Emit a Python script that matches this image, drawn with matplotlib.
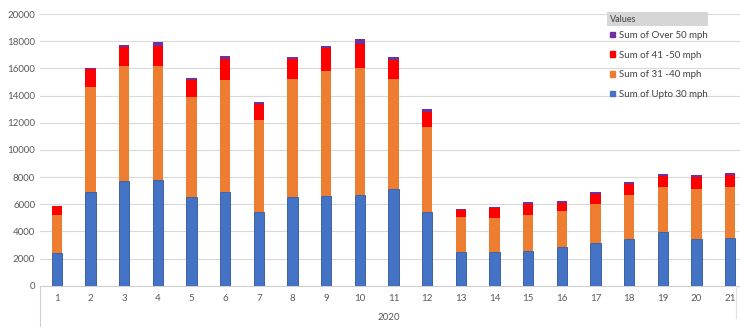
"""Stacked speed-band counts per week (2020), Excel pivot-chart look."""

import matplotlib
matplotlib.use("Agg")
import matplotlib.pyplot as plt
from matplotlib.patches import Patch, Rectangle

plt.rcParams["font.family"] = ["Lato", "DejaVu Sans"]

weeks = [str(i) for i in range(1, 22)]
year_label = "2020"

upto_30 = [2390, 6880, 7710, 7780, 6550, 6880, 5400, 6550, 6630, 6700, 7120,
           5450, 2500, 2460, 2580, 2870, 3120, 3440, 3930, 3440, 3490]
mph_31_40 = [2810, 7750, 8490, 8420, 7350, 8290, 6800, 8690, 9180, 9330, 8120,
             6240, 2560, 2530, 2650, 2630, 2920, 3240, 3340, 3660, 3750]
mph_41_50 = [670, 1330, 1350, 1470, 1250, 1520, 1200, 1450, 1670, 1790, 1360,
             1120, 540, 710, 790, 610, 710, 790, 810, 880, 890]
over_50 = [30, 100, 170, 250, 120, 220, 150, 170, 190, 350, 220,
           200, 50, 70, 140, 100, 170, 140, 140, 190, 140]

series = [
    ("Sum of Upto 30 mph", upto_30, "#4472C4"),
    ("Sum of 31 -40 mph", mph_31_40, "#ED7D31"),
    ("Sum of 41 -50 mph", mph_41_50, "#FF0000"),
    ("Sum of Over 50 mph", over_50, "#7030A0"),
]

W, H = 740, 330
fig = plt.figure(figsize=(W / 100, H / 100), dpi=100)
# plot area runs past the right edge, like the cropped screenshot
ax = fig.add_axes([40 / W, (H - 285.7) / H, 707 / W, 271.7 / H])

x = list(range(len(weeks)))
bottom = [0] * len(weeks)
for name, vals, color in series:
    if color == "#4472C4":
        ax.bar(x, vals, width=0.31, bottom=bottom, color=color,
               edgecolor="#2F5597", linewidth=0.6, zorder=3)
    else:
        ax.bar(x, vals, width=0.31, bottom=bottom, color=color,
               linewidth=0, zorder=3)
    bottom = [b + v for b, v in zip(bottom, vals)]

ax.set_xlim(-0.5, len(weeks) - 0.5)
ax.set_ylim(0, 20000)
ax.set_yticks(range(0, 20001, 2000))
ax.grid(axis="y", color="#d9d9d9", linewidth=0.8, zorder=0)
for s in ["top", "right", "left"]:
    ax.spines[s].set_visible(False)
ax.spines["bottom"].set_color("#d0d0d0")
ax.tick_params(axis="both", length=0, labelsize=7, colors="#595959")
ax.tick_params(axis="x", pad=6)
ax.set_xticks(x)
ax.set_xticklabels(weeks)

# second category level
fig.add_artist(plt.Line2D([40 / W, 40 / W], [(H - 285.7) / H, (H - 326) / H],
                          color="#d0d0d0", linewidth=0.8))
fig.add_artist(plt.Line2D([736 / W, 736 / W], [(H - 285.7) / H, (H - 318) / H],
                          color="#e0e0e0", linewidth=0.8))
fig.text(389 / W, (H - 318) / H, year_label, ha="center", va="center",
         fontsize=7, color="#595959")

# legend with the pivot "Values" header
fig.add_artist(Rectangle((607 / W, (H - 26) / H), 101 / W, 14 / H,
                         transform=fig.transFigure, facecolor="#d6d6d6",
                         edgecolor="none"))
fig.text(610 / W, (H - 19) / H, "Values", ha="left", va="center",
         fontsize=6.5, color="#404040")
handles = [Patch(facecolor=c, edgecolor=c) for _, _, c in series][::-1]
labels = [n for n, _, _ in series][::-1]
fig.legend(handles, labels, loc="upper left",
           bbox_to_anchor=(608 / W, (H - 29) / H), frameon=False,
           fontsize=7, labelcolor="#404040", handlelength=0.5,
           handleheight=0.5, handletextpad=0.45, labelspacing=1.1,
           borderaxespad=0, borderpad=0.2)

fig.savefig("out.png", dpi=100)
